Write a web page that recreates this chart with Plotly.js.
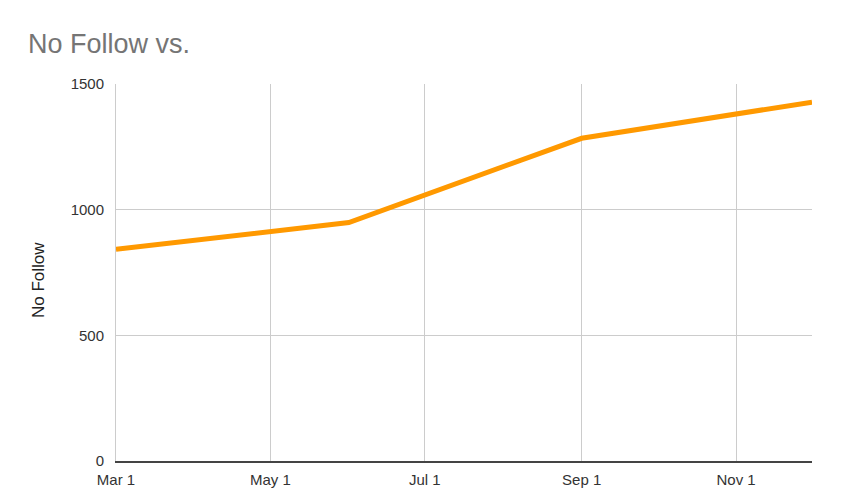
<!DOCTYPE html>
<html>
<head>
<meta charset="utf-8">
<script src="https://cdn.plot.ly/plotly-3.0.1.min.js"></script>
<style>html,body{margin:0;padding:0;background:#fff;}#chart{width:842px;height:500px;}</style>
</head>
<body>
<div id="chart"></div>
<script>
const dates = ['2021-03-01', '2021-06-01', '2021-09-01', '2021-12-01'];
const noFollow = [842, 949, 1284, 1428];
const yTicks = [0, 500, 1000, 1500];
const xTicks = ['2021-03-01', '2021-05-01', '2021-07-01', '2021-09-01', '2021-11-01'];
const xTickText = ['Mar 1', 'May 1', 'Jul 1', 'Sep 1', 'Nov 1'];

const font = 'Liberation Sans, Arial, sans-serif';
Plotly.newPlot('chart', [{
  x: dates, y: noFollow, type: 'scatter', mode: 'lines',
  line: {color: '#ff9900', width: 5}, hoverinfo: 'skip'
}], {
  width: 842, height: 500,
  margin: {l: 116, r: 30, t: 84, b: 39},
  paper_bgcolor: '#fff', plot_bgcolor: '#fff',
  showlegend: false,
  title: {text: 'No Follow vs.', x: 0, xref: 'container', xanchor: 'left', y: 0.932, yref: 'container',
          pad: {l: 28}, font: {family: font, size: 27, color: '#757575'}},
  annotations: [{
    text: 'No Follow', textangle: -90, showarrow: false,
    xref: 'paper', x: 0, xshift: -78, xanchor: 'center',
    yref: 'paper', y: 0.48, yanchor: 'middle',
    font: {family: font, size: 17, color: '#222'}
  }],
  xaxis: {
    type: 'date', range: ['2021-03-01', '2021-12-01'],
    tickvals: xTicks, ticktext: xTickText,
    showgrid: true, gridcolor: '#cccccc', gridwidth: 1,
    zeroline: false, showline: true, linecolor: '#444', linewidth: 1.5,
    ticks: '', ticklabelstandoff: 4,
    tickfont: {family: font, size: 15, color: '#333'}
  },
  yaxis: {
    range: [0, 1500], tickvals: yTicks,
    showgrid: true, gridcolor: '#cccccc', gridwidth: 1,
    zeroline: false, showline: true, linecolor: '#cccccc', linewidth: 1,
    ticks: '', ticklabelstandoff: 8,
    tickfont: {family: font, size: 15, color: '#333'}
  }
}, {staticPlot: true});
</script>
</body>
</html>
